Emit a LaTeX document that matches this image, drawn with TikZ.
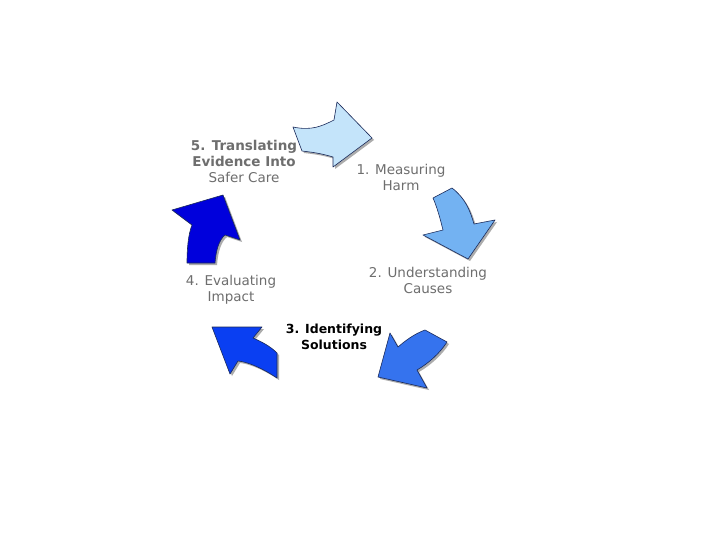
\documentclass[tikz,border=0pt]{standalone}
\usepackage{fontspec}
\setmainfont{DejaVu Sans}
\definecolor{harmblue}{HTML}{C4E4FA}
\definecolor{causeblue}{HTML}{73B2F2}
\definecolor{solblue}{HTML}{3573EE}
\definecolor{impblue}{HTML}{0A3FF2}
\definecolor{careblue}{HTML}{0000DC}
\definecolor{edge}{HTML}{1A2A5A}
\definecolor{lbl}{HTML}{6E6E6E}
\begin{document}
\begin{tikzpicture}[x=1pt,y=-1pt,
  blockarrow/.style={draw=edge, line width=0.6pt, line join=round,
    preaction={fill=gray!65, transform canvas={shift={(2pt,-2pt)}}}},
  steplabel/.style={align=center, text=lbl, font=\fontsize{13.5}{16}\selectfont}]
\useasboundingbox[fill=white] (0,0) rectangle (720,540);

% the five block arrows
\path[blockarrow, fill=harmblue] (293,127) .. controls (312,131) and (322,126) .. (334,120)
  -- (337,102) -- (372,138) -- (333,167) -- (333,157)
  .. controls (320,153) and (310,152) .. (302,151) -- cycle;
\path[blockarrow, fill=causeblue] (433,198) -- (452,188)
  .. controls (465,198) and (470,210) .. (474,224) -- (495,220) -- (468,259)
  -- (423,235) -- (443,230) .. controls (440,218) and (437,207) .. cycle;
\path[blockarrow, fill=solblue] (390,333) -- (398,347)
  .. controls (405,341) and (414,334) .. (425,330) -- (447,342)
  .. controls (440,353) and (429,363) .. (417,370) -- (427,388) -- (378,377) -- cycle;
\path[blockarrow, fill=impblue] (212,327) -- (262,327) -- (253,338)
  .. controls (262,342) and (270,346) .. (277,353) -- (277,378)
  .. controls (262,368) and (248,362) .. (238,361) -- (230,374) -- cycle;
\path[blockarrow, fill=careblue] (223,195) -- (240,240) -- (225,235)
  .. controls (219,240) and (216,250) .. (215,263) -- (187,263)
  .. controls (187,250) and (188,235) .. (192,225) -- (172,210) -- cycle;

% labels
\node[steplabel] (care) at (244,161) {\textbf{5. Translating}\\\textbf{Evidence Into}\\Safer Care};
\node[steplabel] (harm) at (401,177) {1. Measuring\\Harm};
\node[steplabel] (causes) at (428,280) {2. Understanding\\Causes};
\node[steplabel, text=black, font=\bfseries\fontsize{12.5}{16}\selectfont] (solutions) at (334,337) {3. Identifying\\Solutions};
\node[steplabel] (impact) at (231,290) {4. Evaluating\\Impact};
\end{tikzpicture}
\end{document}
